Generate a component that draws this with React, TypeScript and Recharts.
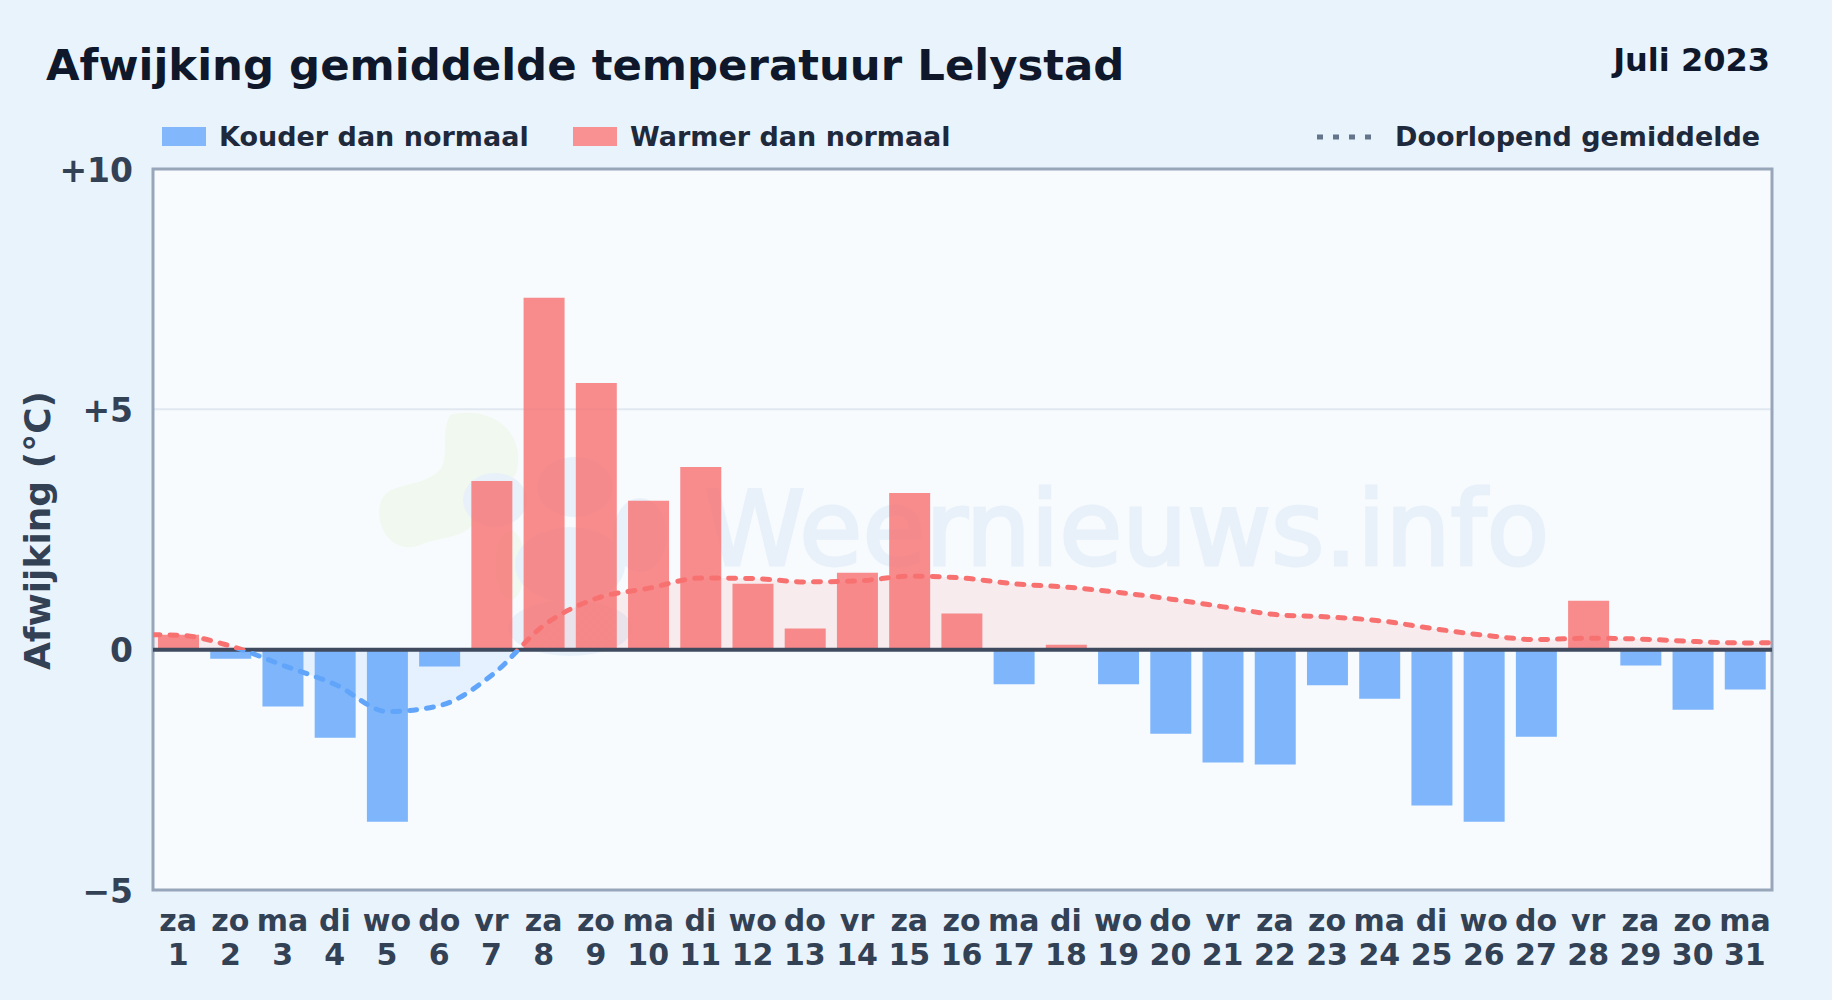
import React from 'react';
import { ComposedChart, Area, Bar, Line, Cell, XAxis, YAxis, CartesianGrid, ReferenceLine, ReferenceArea } from 'recharts';

const FONT = '"DejaVu Sans", sans-serif';

const days = [1, 2, 3, 4, 5, 6, 7, 8, 9, 10, 11, 12, 13, 14, 15, 16, 17, 18, 19, 20, 21, 22, 23, 24, 25, 26, 27, 28, 29, 30, 31];
const weekdays = ['za', 'zo', 'ma', 'di', 'wo', 'do', 'vr', 'za', 'zo', 'ma', 'di', 'wo', 'do', 'vr', 'za', 'zo', 'ma', 'di', 'wo', 'do', 'vr', 'za', 'zo', 'ma', 'di', 'wo', 'do', 'vr', 'za', 'zo', 'ma'];
const deviation = [0.31, -0.19, -1.18, -1.83, -3.58, -0.35, 3.51, 7.32, 5.55, 3.1, 3.8, 1.37, 0.44, 1.6, 3.26, 0.75, -0.72, 0.1, -0.72, -1.75, -2.35, -2.39, -0.74, -1.02, -3.24, -3.58, -1.81, 1.02, -0.33, -1.25, -0.83];
const runningMean = [0.3, 0.07, -0.33, -0.73, -1.29, -1.16, -0.52, 0.52, 1.07, 1.28, 1.49, 1.48, 1.41, 1.43, 1.53, 1.49, 1.37, 1.3, 1.19, 1.05, 0.89, 0.73, 0.68, 0.6, 0.44, 0.3, 0.21, 0.24, 0.22, 0.17, 0.14];
// the running mean runs on to the plot edges, half a day past the first and last bar
const edgeX = [0.5, 31.5];
const edgeMean = [0.31, 0.145];
const yTicks = [-5, 0, 5, 10];

const barRows = days.map((d, i) => ({ day: d, dev: deviation[i] }));
const meanRows = [
  { x: edgeX[0], mean: edgeMean[0] },
  ...days.map((d, i) => ({ x: d, mean: runningMean[i] })),
  { x: edgeX[1], mean: edgeMean[1] },
];

const meanMax = Math.max(...runningMean);
const meanMin = Math.min(...runningMean);
const zeroOffset = meanMax / (meanMax - meanMin);

const DayTick = ({ x, y, payload }: any) => (
  <text x={x} y={y} textAnchor="middle" fontFamily={FONT} fontWeight={700} fontSize={30} fill="#334155">
    <tspan x={x} dy={33}>{weekdays[payload.value - 1]}</tspan>
    <tspan x={x} dy={34}>{payload.value}</tspan>
  </text>
);

const formatY = (v: number) => (v > 0 ? `+${v}` : v < 0 ? `\u2212${-v}` : '0');

const legendText: React.CSSProperties = { position: 'absolute', top: 121, fontFamily: FONT, fontWeight: 700, fontSize: 27, lineHeight: '32px', color: '#1e293b', whiteSpace: 'nowrap' };
const swatch: React.CSSProperties = { position: 'absolute', top: 127, width: 44, height: 19 };

const App = () => (
  <div style={{ position: 'absolute', left: 0, top: 0, width: 1832, height: 1000, background: '#e9f3fc', overflow: 'hidden' }}>
    <div style={{ position: 'absolute', left: 46, top: 39, fontFamily: FONT, fontWeight: 700, fontSize: 43.4, lineHeight: '52px', color: '#0f172a', whiteSpace: 'nowrap' }}>
      Afwijking gemiddelde temperatuur Lelystad
    </div>
    <div style={{ position: 'absolute', right: 62, top: 40, fontFamily: FONT, fontWeight: 700, fontSize: 32, lineHeight: '40px', color: '#0f172a', whiteSpace: 'nowrap' }}>
      Juli 2023
    </div>
    <div style={{ ...swatch, left: 162, background: '#82b7fb' }} />
    <div style={{ ...legendText, left: 219 }}>Kouder dan normaal</div>
    <div style={{ ...swatch, left: 573, background: '#f99091' }} />
    <div style={{ ...legendText, left: 630 }}>Warmer dan normaal</div>
    <svg style={{ position: 'absolute', left: 1315, top: 131 }} width={62} height={12}>
      <line x1={2} x2={60} y1={6} y2={6} stroke="#64748b" strokeWidth={5} strokeDasharray="6 10" />
    </svg>
    <div style={{ ...legendText, left: 1395 }}>Doorlopend gemiddelde</div>

    <ComposedChart
      width={1832}
      height={1000}
      data={barRows}
      margin={{ top: 169, right: 60, bottom: 0, left: 0 }}
      barCategoryGap={0}
      style={{ position: 'absolute', left: 0, top: 0 }}
    >
      <defs>
        <linearGradient id="meanStroke" x1="0" y1="0" x2="0" y2="1">
          <stop offset={zeroOffset} stopColor="#f87171" />
          <stop offset={zeroOffset} stopColor="#60a5fa" />
        </linearGradient>
        <linearGradient id="meanFill" x1="0" y1="0" x2="0" y2="1">
          <stop offset={zeroOffset} stopColor="#f87171" stopOpacity={0.19} />
          <stop offset={zeroOffset} stopColor="#60a5fa" stopOpacity={0.2} />
        </linearGradient>
      </defs>
      <CartesianGrid fill="#f7fbfe" stroke="#e2e8f0" strokeWidth={2} vertical={false} />
      {/* watermark */}
      <g opacity={0.6} pointerEvents="none">
        <path d="M450 415 C490 405 525 430 517 470 C510 495 470 480 470 500 C490 540 440 535 420 545 C395 555 375 530 380 505 C385 480 420 490 440 470 C450 455 440 435 450 415 Z" fill="#eef7e6" />
        <ellipse cx={510} cy={565} rx={15} ry={35} fill="#eef7e6" />
        <ellipse cx={495} cy={500} rx={32} ry={27} fill="#dfebf8" />
        <ellipse cx={575} cy={487} rx={38} ry={30} fill="#dfebf8" />
        <ellipse cx={570} cy={565} rx={55} ry={38} fill="#dfebf8" />
        <ellipse cx={640} cy={535} rx={27} ry={37} fill="#dfebf8" />
        <ellipse cx={570} cy={628} rx={62} ry={28} fill="#dfebf8" />
        <text x={704} y={565} fontFamily={FONT} fontSize={102.5} fill="#dfebf8" stroke="#dfebf8" strokeWidth={3}>Weernieuws.info</text>
      </g>
      <XAxis
        dataKey="day"
        type="category"
        scale="band"
        ticks={days}
        interval={0}
        height={110}
        padding={{ left: -1, right: 1 }}
        tickLine={false}
        axisLine={false}
        tick={<DayTick />}
      />
      <XAxis xAxisId="mean" dataKey="x" type="number" domain={[edgeX[0], edgeX[1]]} allowDataOverflow hide />
      <YAxis
        type="number"
        domain={[-5, 10]}
        ticks={yTicks}
        interval={0}
        width={153}
        tickLine={false}
        axisLine={false}
        tickMargin={14}
        tickFormatter={formatY}
        tick={{ fontFamily: FONT, fontWeight: 700, fontSize: 33, fill: '#334155', dy: 1 }}
        label={{ value: 'Afwijking (°C)', angle: -90, position: 'insideLeft', offset: 37, dy: 1, style: { fontFamily: FONT, fontWeight: 700, fontSize: 36, fill: '#334155', textAnchor: 'middle' } }}
      />
      <Area xAxisId="mean" data={meanRows} dataKey="mean" type="monotone" baseValue={0} stroke="none" fill="url(#meanFill)" isAnimationActive={false} dot={false} activeDot={false} />
      <Bar dataKey="dev" barSize={41} isAnimationActive={false}>
        {barRows.map((d, i) => (
          <Cell key={i} fill={d.dev < 0 ? '#60a5fa' : '#f87171'} fillOpacity={0.8} />
        ))}
      </Bar>
      <ReferenceLine y={0} stroke="#3f4a5e" strokeWidth={4} />
      <Line xAxisId="mean" data={meanRows} dataKey="mean" type="monotone" stroke="url(#meanStroke)" strokeWidth={5} strokeDasharray="7 10" strokeLinecap="round" dot={false} activeDot={false} isAnimationActive={false} />
      <ReferenceArea xAxisId="mean" x1={edgeX[0]} x2={edgeX[1]} y1={-5} y2={10} fill="none" stroke="#97a6b9" strokeWidth={3} ifOverflow="visible" />
    </ComposedChart>
  </div>
);

export default App;
